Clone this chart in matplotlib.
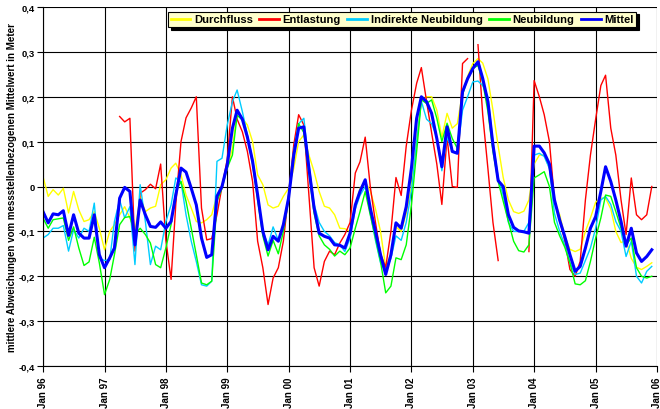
import numpy as np
import pandas as pd
import matplotlib
matplotlib.use("Agg")
import matplotlib.pyplot as plt
import matplotlib.dates as mdates

nan = np.nan

# Monthly values Jan 1996 .. Dec 2005 (mean deviation in metres).
months = pd.date_range("1996-01-01", periods=120, freq="MS")

durchfluss = [
    0.022, -0.022, -0.007, -0.019, -0.004, -0.059, -0.011, -0.052, -0.078, -0.074, -0.056, -0.093,
    -0.141, -0.100, -0.085, -0.063, -0.045, -0.070, -0.100, -0.022, -0.056, -0.048, -0.044, 0.004,
    0.015, 0.041, 0.052, 0.026, -0.019, -0.048, -0.078, -0.081, -0.074, -0.063, -0.019, 0.004,
    0.041, 0.085, 0.167, 0.152, 0.137, 0.100, 0.026, 0.004, -0.041, -0.048, -0.044, -0.022,
    -0.004, 0.041, 0.100, 0.115, 0.070, 0.033, -0.011, -0.044, -0.048, -0.063, -0.093, -0.094,
    -0.100, -0.041, -0.004, 0.011, -0.010, -0.050, -0.100, -0.180, -0.150, -0.090, -0.100, -0.060,
    0.000, 0.110, 0.190, 0.200, 0.200, 0.170, 0.110, 0.163, 0.130, 0.140, 0.210, 0.245,
    0.274, 0.285, 0.275, 0.240, 0.170, 0.090, 0.020, -0.030, -0.056, -0.060, -0.055, -0.030,
    0.050, 0.070, 0.070, 0.040, -0.033, -0.063, -0.110, -0.140, -0.145, -0.140, -0.100, -0.070,
    -0.035, -0.026, -0.026, -0.050, -0.100, -0.125, -0.120, -0.160, -0.180, -0.185, -0.178, -0.170,
]

entlastung = [
    nan, nan, nan, nan, nan, nan, nan, nan, nan, nan, nan, nan,
    nan, nan, nan, 0.156, 0.144, 0.152, -0.144, -0.015, -0.007, 0.005, -0.005, 0.050,
    -0.120, -0.207, -0.040, 0.100, 0.153, 0.175, 0.200, -0.048, -0.119, -0.116, -0.063, 0.000,
    0.060, 0.200, 0.150, 0.122, 0.078, 0.011, -0.122, -0.181, -0.263, -0.204, -0.181, -0.122,
    -0.019, 0.093, 0.160, 0.137, -0.019, -0.181, -0.222, -0.167, -0.144, -0.152, -0.126, -0.107,
    -0.080, 0.030, 0.055, 0.110, 0.000, -0.080, -0.150, -0.180, -0.100, 0.020, -0.020, 0.090,
    0.170, 0.230, 0.265, 0.190, 0.120, 0.050, -0.040, 0.110, 0.000, -0.002, 0.274, 0.285,
    nan, 0.316, 0.160, 0.040, -0.080, -0.165, nan, nan, nan, nan, nan, -0.145,
    0.236, 0.200, 0.160, 0.100, -0.030, -0.075, -0.120, -0.185, -0.200, -0.167, -0.030, 0.070,
    0.150, 0.225, 0.248, 0.130, 0.070, -0.030, -0.107, 0.019, -0.063, -0.074, -0.063, 0.000,
]

indirekte = [
    -0.115, -0.107, -0.093, -0.093, -0.087, -0.144, -0.096, -0.115, -0.093, -0.100, -0.037, -0.160,
    -0.165, -0.163, -0.078, -0.030, -0.070, -0.045, -0.174, 0.004, -0.078, -0.174, -0.133, -0.141,
    -0.078, -0.041, 0.019, 0.011, -0.063, -0.122, -0.167, -0.219, -0.222, -0.211, 0.056, 0.063,
    0.137, 0.189, 0.215, 0.167, 0.115, 0.060, -0.020, -0.100, -0.130, -0.090, -0.120, -0.090,
    -0.020, 0.080, 0.140, 0.152, 0.050, -0.040, -0.080, -0.100, -0.110, -0.125, -0.130, -0.145,
    -0.115, -0.050, -0.020, 0.000, -0.060, -0.120, -0.170, -0.190, -0.160, -0.110, -0.120, -0.080,
    -0.010, 0.100, 0.190, 0.150, 0.140, 0.110, 0.035, 0.110, 0.080, 0.075, 0.170, 0.200,
    0.233, 0.235, 0.225, 0.200, 0.100, 0.020, -0.020, -0.080, -0.100, -0.100, -0.100, -0.080,
    0.070, 0.074, 0.067, 0.040, -0.060, -0.100, -0.130, -0.170, -0.196, -0.193, -0.165, -0.137,
    -0.093, -0.030, -0.022, -0.040, -0.078, -0.100, -0.156, -0.122, -0.200, -0.215, -0.189, -0.178,
]

neubildung = [
    -0.070, -0.093, -0.074, -0.072, -0.070, -0.120, -0.090, -0.137, -0.176, -0.168, -0.113, -0.170,
    -0.241, -0.207, -0.152, -0.085, -0.069, -0.067, -0.107, -0.093, -0.107, -0.126, -0.174, -0.181,
    -0.137, -0.085, -0.011, 0.011, -0.033, -0.093, -0.152, -0.215, -0.219, -0.211, -0.033, -0.004,
    0.041, 0.070, 0.159, 0.148, 0.110, 0.050, -0.030, -0.110, -0.155, -0.120, -0.150, -0.100,
    -0.030, 0.070, 0.140, 0.120, 0.030, -0.060, -0.110, -0.130, -0.140, -0.155, -0.144, -0.152,
    -0.137, -0.093, -0.056, -0.011, -0.063, -0.115, -0.167, -0.237, -0.222, -0.159, -0.163, -0.130,
    -0.041, 0.078, 0.193, 0.185, 0.193, 0.152, 0.100, 0.141, 0.107, 0.085, 0.204, 0.241,
    0.263, 0.270, 0.233, 0.167, 0.078, 0.011, -0.033, -0.078, -0.122, -0.143, -0.146, -0.130,
    0.019, 0.026, 0.033, 0.000, -0.080, -0.110, -0.135, -0.170, -0.217, -0.219, -0.210, -0.167,
    -0.115, -0.070, -0.019, -0.022, -0.056, -0.093, -0.130, -0.115, -0.181, -0.200, -0.204, -0.200,
]

mittel = [
    -0.056, -0.081, -0.061, -0.063, -0.054, -0.109, -0.063, -0.104, -0.115, -0.115, -0.063, -0.152,
    -0.181, -0.159, -0.137, -0.026, -0.002, -0.011, -0.130, -0.030, -0.063, -0.089, -0.091, -0.079,
    -0.093, -0.078, -0.019, 0.041, 0.032, -0.004, -0.041, -0.115, -0.158, -0.152, -0.022, 0.000,
    0.048, 0.130, 0.170, 0.150, 0.110, 0.056, -0.019, -0.100, -0.141, -0.111, -0.122, -0.085,
    -0.026, 0.070, 0.130, 0.133, 0.041, -0.048, -0.104, -0.111, -0.115, -0.130, -0.131, -0.137,
    -0.104, -0.041, -0.011, 0.015, -0.048, -0.100, -0.152, -0.196, -0.152, -0.081, -0.093, -0.045,
    0.041, 0.152, 0.200, 0.189, 0.163, 0.107, 0.044, 0.133, 0.078, 0.074, 0.211, 0.240,
    0.263, 0.278, 0.241, 0.189, 0.093, 0.013, 0.000, -0.063, -0.091, -0.099, -0.101, -0.104,
    0.090, 0.090, 0.075, 0.050, -0.030, -0.075, -0.111, -0.152, -0.189, -0.178, -0.137, -0.093,
    -0.067, -0.011, 0.044, 0.011, -0.030, -0.078, -0.133, -0.093, -0.148, -0.167, -0.156, -0.141,
]

series = [
    ("Durchfluss", durchfluss, "#ffff00", 1.0),
    ("Entlastung", entlastung, "#ff0000", 1.0),
    ("Indirekte Neubildung", indirekte, "#00ccff", 1.0),
    ("Neubildung", neubildung, "#00ff00", 1.0),
    ("Mittel", mittel, "#0000ff", 2.2),
]

plt.rcParams["font.family"] = "Liberation Sans"
plt.rcParams["font.weight"] = "bold"

fig = plt.figure(figsize=(6.6, 4.1), dpi=100)
ax = fig.add_axes([43 / 660, 1 - 367 / 410, 614 / 660, 359 / 410])

for name, vals, col, lw in series:
    ax.plot(months, vals, color=col, lw=lw, label=name)

# Axes, grid and ticks.
ax.set_xlim(pd.Timestamp("1996-01-01"), pd.Timestamp("2006-01-01"))
ax.set_ylim(-0.4, 0.4)
yt = np.round(np.arange(-0.4, 0.41, 0.1), 1)
ax.set_yticks(yt)
ax.set_yticklabels(["0" if v == 0 else f"{v:.1f}".replace(".", ",") for v in yt])
ax.xaxis.set_major_locator(mdates.YearLocator())
ax.xaxis.set_major_formatter(mdates.DateFormatter("%b %y"))
ax.tick_params(axis="x", labelrotation=90, labelsize=7, length=4, width=0.8)
ax.tick_params(axis="y", labelsize=6.8, length=4, width=0.8, pad=2)
ax.grid(True, color="black", lw=0.8)
ax.set_axisbelow(True)
for s in ("top", "right"):
    ax.spines[s].set_visible(False)
ax.set_ylabel("mittlere Abweichungen vom messstellenbezogenen Mittelwert in Meter",
              fontsize=7, fontweight="bold")
ax.yaxis.set_label_coords(-0.043, 0.5)

leg = ax.legend(loc="upper right", bbox_to_anchor=(0.966, 0.987), ncol=5,
                fontsize=8.1, frameon=True, fancybox=False, framealpha=1,
                facecolor="#ffffcc", edgecolor="black",
                shadow={"color": "black", "alpha": 1},
                handlelength=1.75, handletextpad=0.3, columnspacing=0.6,
                borderpad=0.25, borderaxespad=0)
leg.get_frame().set_linewidth(0.8)
for line in leg.get_lines():
    line.set_linewidth(2.0)

fig.savefig("out.png", dpi=100)
